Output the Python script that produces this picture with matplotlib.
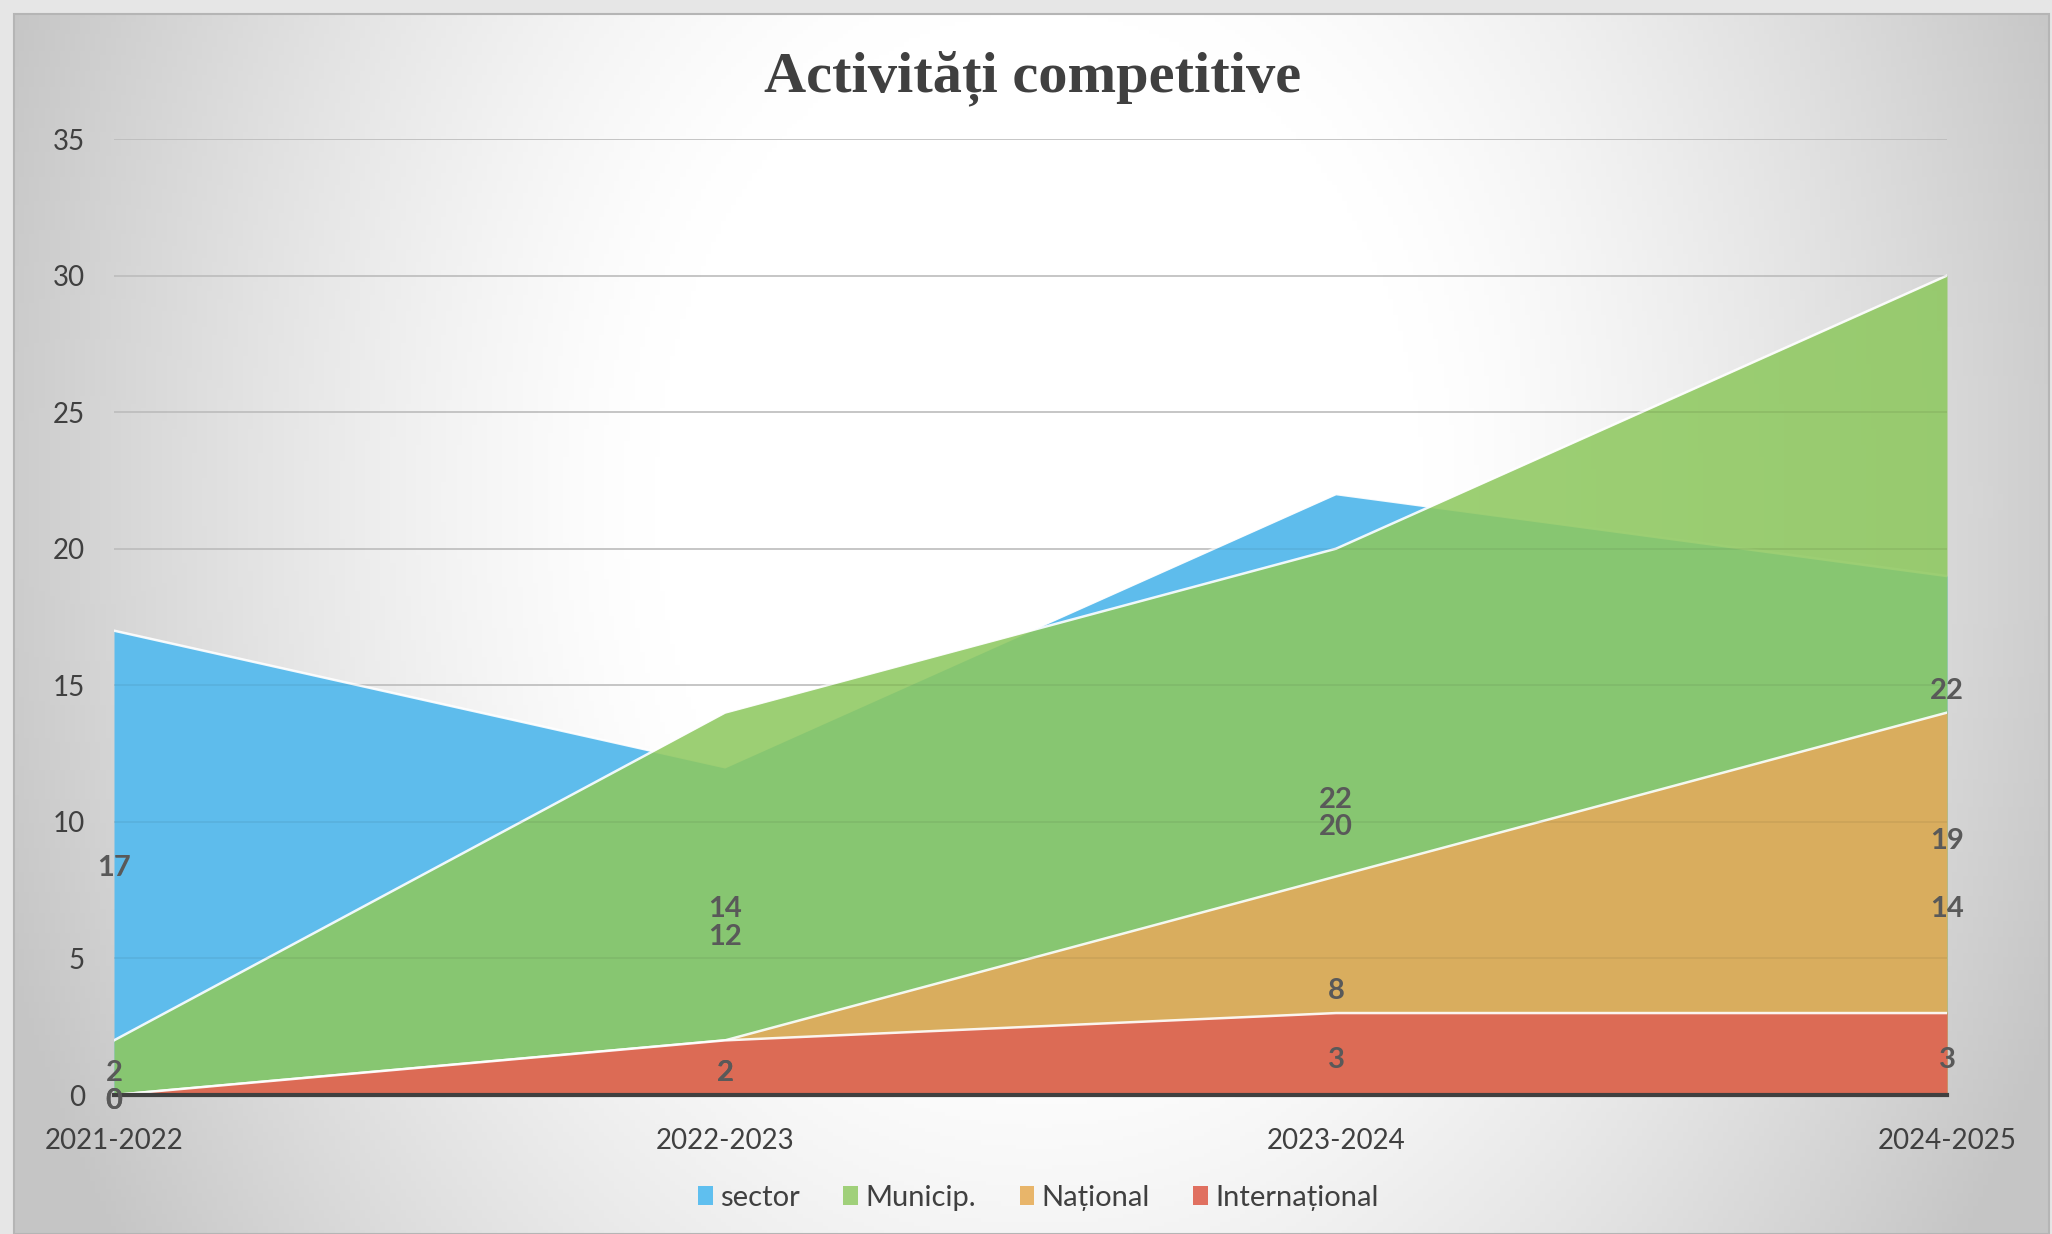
import numpy as np
import matplotlib
matplotlib.use('Agg')
import matplotlib.pyplot as plt
from matplotlib.patches import Patch, Rectangle

# date
years = ['2021-2022', '2022-2023', '2023-2024', '2024-2025']
sector = [17, 12, 22, 19]
municip = [2, 14, 20, 30]
national = [0, 2, 8, 14]
international = [0, 2, 3, 3]
# etichetele afisate pe grafic (asa cum apar in original)
sector_lbl = ['17', '12', '22', '19']
municip_lbl = ['2', '14', '20', '22']
national_lbl = ['0', '2', '8', '14']
international_lbl = ['0', '2', '3', '3']

W, H = 2052, 1234
fig = plt.figure(figsize=(W / 100, H / 100), dpi=100, facecolor='#e6e6e6')

# fundal cu gradient radial (ca in slide)
bg = fig.add_axes([14 / W, 0, (2049 - 14) / W, (H - 14) / H], zorder=-5)
xx, yy = np.meshgrid(np.linspace(14, 2049, 400), np.linspace(14, H, 300))
d = np.sqrt(((xx - 1040) / 1100) ** 2 + ((yy - 500) / 1400) ** 2)
f = np.clip((d - 0.35) / 0.65, 0, 1) ** 1.3
v = (255 - 58 * f) / 255
bg.imshow(np.dstack([v, v, v]), extent=[0, 1, 0, 1], aspect='auto', origin='upper')
bg.set_xlim(0, 1)
bg.set_ylim(0, 1)
bg.axis('off')
bg.add_patch(Rectangle((0, 0), 1, 1, fill=False, edgecolor='#b5b5b5', lw=1.5,
                       transform=bg.transAxes, clip_on=False))

ax = fig.add_axes([114 / W, 1 - 1095 / H, (1947 - 114) / W, (1095 - 139) / H])
ax.patch.set_alpha(0)
x = np.arange(len(years))

series = [
    (sector, sector_lbl, 'sector', '#5EBCEC', 1.0),
    (municip, municip_lbl, 'Municip.', '#8EC85F', 0.87),
    (national, national_lbl, 'Național', '#D9AD5E', 1.0),
    (international, international_lbl, 'Internațional', '#DC6B55', 1.0),
]
legend_colors = ['#5FBFEF', '#A0D07A', '#E8B56A', '#E07060']

for i, (vals, lbls, name, col, a) in enumerate(series):
    z = 2 + i
    ax.fill_between(x, 0, vals, color=col, alpha=a, lw=0, zorder=z)
    ax.plot(x, vals, color='white', lw=1.8, alpha=0.9, zorder=z + 0.1)

for vals, lbls, name, col, a in series:
    for xi, vi, t in zip(x, vals, lbls):
        ax.annotate(t, (xi, vi / 2), xytext=(0, -4), textcoords='offset points',
                    ha='center', va='center', fontsize=21, fontweight='bold',
                    color='#595959', family='Lato', zorder=10, annotation_clip=False)

ax.set_xlim(0, 3)
ax.set_ylim(0, 35)
ax.set_yticks(range(0, 36, 5))
ax.set_xticks(x)
ax.set_xticklabels(years)
ax.grid(axis='y', color='#c9c9c9', lw=1.2)
ax.set_axisbelow(True)
for yv in range(5, 36, 5):
    ax.axhline(yv, color='black', alpha=0.06, lw=1.2, zorder=8)
for s in ['top', 'right', 'left']:
    ax.spines[s].set_visible(False)
ax.spines['bottom'].set_color('#404040')
ax.spines['bottom'].set_linewidth(3)
ax.spines['bottom'].set_zorder(9)
ax.tick_params(length=0, labelsize=20, colors='#404040')
ax.tick_params(axis='y', pad=21)
ax.tick_params(axis='x', pad=24)
for lab in ax.get_xticklabels() + ax.get_yticklabels():
    lab.set_family('Lato')

fig.text(0.503, 1 - 78 / H, 'Activități competitive', ha='center', va='center',
         fontsize=42, fontweight='bold', family='Liberation Serif', color='#404040')

handles = [Patch(facecolor=c, edgecolor='none') for c in legend_colors]
fig.legend(handles, [s[2] for s in series], loc='center', bbox_to_anchor=(0.506, 1 - 1198 / H),
           ncol=4, frameon=False, prop={'family': 'Lato', 'size': 21},
           handlelength=0.5, handleheight=0.65, handletextpad=0.25, columnspacing=1.5,
           labelcolor='#404040')

fig.savefig('out.png', dpi=100, facecolor=fig.get_facecolor())
